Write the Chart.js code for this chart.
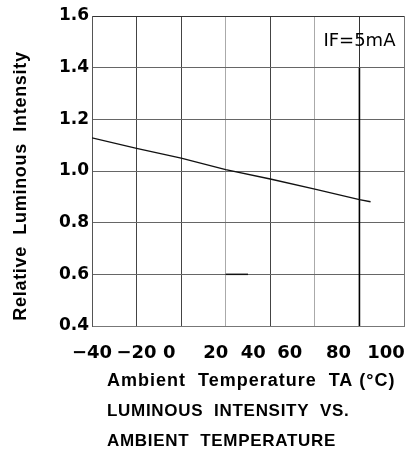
<!DOCTYPE html>
<html>
<head>
<meta charset="utf-8">
<script src="https://cdn.jsdelivr.net/npm/chart.js@4.4.1/dist/chart.umd.min.js"></script>
<style>
  html, body { margin: 0; padding: 0; background: #fff; }
</style>
</head>
<body>
<canvas id="tempChart" width="417" height="455"></canvas>
<script>
// curve (IF = 5mA)
const temps = [-40, -20, 0, 20, 40, 60, 80, 85];
const intensity = [1.128, 1.088, 1.050, 1.005, 0.969, 0.930, 0.889, 0.881];

// stray strokes that are in the scanned figure
const markX = [80, 80];
const markY = [0.4, 1.4];
const stubX = [20, 30];
const stubY = [0.6, 0.6];

const xTickValues = [-40, -20, 0, 20, 40, 60, 80, 100];
const xTickLabels = ['−40', '−20', '0', '20', '40', '60', '80', '100'];
const yTickLabels = ['0.4', '0.6', '0.8', '1.0', '1.2', '1.4', '1.6'];

const yTitle = 'Relative  Luminous  Intensity';
const xTitle = 'Ambient  Temperature  TA (°C)';
const captionLines = ['LUMINOUS  INTENSITY  VS.', 'AMBIENT  TEMPERATURE'];
const noteText = 'IF=5mA';

// the labels under the x axis sit a bit left of their grid lines in the original
const xLabelShift = [0, 0, -12, -10, -17, -25, -21, -18];
const xGridColors = ['#555', '#444', '#444', '#aaa', '#444', '#aaa', '#333', '#777'];

function pts(xs, ys) {
    return xs.map((x, i) => ({ x: x, y: ys[i] }));
}

const figureText = {
    id: 'figureText',
    afterDraw(chart) {
        const ctx = chart.ctx;
        const xs = chart.scales.x, ys = chart.scales.y, area = chart.chartArea;
        ctx.save();
        ctx.fillStyle = '#000';

        // x tick labels
        ctx.font = 'bold 18px "DejaVu Sans"';
        ctx.textAlign = 'center';
        ctx.textBaseline = 'alphabetic';
        xTickValues.forEach((v, i) => {
            ctx.fillText(xTickLabels[i], xs.getPixelForValue(v) + xLabelShift[i], area.bottom + 32);
        });

        // note in the top right cell
        ctx.font = '18px "DejaVu Sans"';
        ctx.fillText(noteText, xs.getPixelForValue(80), ys.getPixelForValue(1.6) + 30);

        // x title and captions under the chart
        ctx.textAlign = 'left';
        ctx.font = 'bold 18px "Liberation Sans"';
        ctx.letterSpacing = '1px';
        ctx.fillText(xTitle, area.left + 15, area.bottom + 60);
        ctx.font = 'bold 17px "Liberation Sans"';
        ctx.letterSpacing = '0.7px';
        captionLines.forEach((t, i) => {
            ctx.fillText(t, area.left + 15, area.bottom + 90 + i * 30);
        });

        // y axis title
        ctx.font = 'bold 18px "Liberation Sans"';
        ctx.letterSpacing = '0.7px';
        ctx.translate(26, (area.top + area.bottom) / 2 + 15);
        ctx.rotate(-Math.PI / 2);
        ctx.textAlign = 'center';
        ctx.fillText(yTitle, 0, 0);
        ctx.restore();
    }
};

new Chart(document.getElementById('tempChart').getContext('2d'), {
    type: 'scatter',
    data: {
        datasets: [{
            data: pts(temps, intensity),
            showLine: true,
            borderColor: '#111',
            borderWidth: 1.3,
            pointRadius: 0,
            tension: 0
        }, {
            data: pts(markX, markY),
            showLine: true,
            borderColor: '#000',
            borderWidth: 1.6,
            pointRadius: 0
        }, {
            data: pts(stubX, stubY),
            showLine: true,
            borderColor: '#111',
            borderWidth: 1.5,
            pointRadius: 0
        }]
    },
    plugins: [figureText],
    options: {
        responsive: false,
        animation: false,
        layout: { padding: { top: 16, right: 13, left: 0, bottom: 0 } },
        plugins: {
            legend: { display: false },
            tooltip: { enabled: false }
        },
        scales: {
            x: {
                type: 'linear',
                min: -40,
                max: 100,
                ticks: { stepSize: 20, display: false },
                grid: { color: ctx => xGridColors[ctx.index] || '#666', drawTicks: false },
                border: { color: '#777' },
                afterFit: s => { s.height = 129; }
            },
            y: {
                min: 0.4,
                max: 1.6,
                ticks: {
                    stepSize: 0.2,
                    padding: 3,
                    color: '#000',
                    font: { family: 'DejaVu Sans', size: 17, weight: 'bold' },
                    callback: (v, i) => yTickLabels[i]
                },
                grid: { color: ctx => ctx.index === 6 ? '#333' : '#666', drawTicks: false },
                border: { color: '#555' },
                afterFit: s => { s.width = 92; }
            }
        }
    }
});
</script>
</body>
</html>
